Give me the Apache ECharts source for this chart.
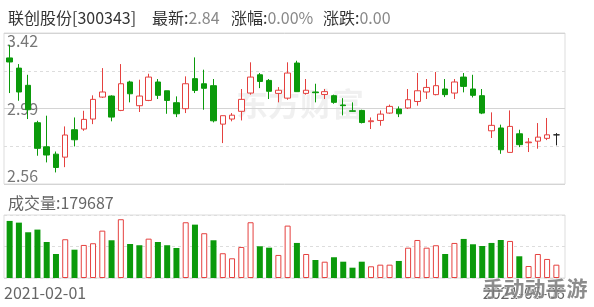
<!DOCTYPE html>
<html><head><meta charset="utf-8">
<script src="https://cdn.jsdelivr.net/npm/echarts@6/dist/echarts.min.js"></script>
<style>html,body{margin:0;padding:0;background:#fff}#c{width:594px;height:307px}</style>
</head><body><div id="c"></div>
<script>
const stockName = '联创股份[300343]';
const latestPrice = '2.84';
const changePct = '0.00%';
const changeAmt = '0.00';
const lastVolume = '179687';
const watermarkCenter = '东方财富';
const watermarkCorner = '手动动手游';

const dates = [
 '2021-02-01','2021-02-02','2021-02-03','2021-02-04','2021-02-05','2021-02-08','2021-02-09','2021-02-10','2021-02-18','2021-02-19',
 '2021-02-22','2021-02-23','2021-02-24','2021-02-25','2021-02-26','2021-03-01','2021-03-02','2021-03-03','2021-03-04','2021-03-05',
 '2021-03-08','2021-03-09','2021-03-10','2021-03-11','2021-03-12','2021-03-15','2021-03-16','2021-03-17','2021-03-18','2021-03-19',
 '2021-03-22','2021-03-23','2021-03-24','2021-03-25','2021-03-26','2021-03-29','2021-03-30','2021-03-31','2021-04-01','2021-04-02',
 '2021-04-06','2021-04-07','2021-04-08','2021-04-09','2021-04-12','2021-04-13','2021-04-14','2021-04-15','2021-04-16','2021-04-19',
 '2021-04-20','2021-04-21','2021-04-22','2021-04-23','2021-04-26','2021-04-27','2021-04-28','2021-04-29','2021-04-30','2021-05-06'
];
const opens = [3.278,3.22,3.122,2.909,2.772,2.73,2.713,2.869,2.873,2.93,
 3.055,3.061,2.979,3.141,3.006,3.036,3.141,3.091,3.023,2.989,
 3.16,3.131,3.12,2.901,2.93,2.974,3.078,3.182,3.15,3.076,
 3.049,3.249,3.076,3.084,3.07,3.063,3.01,2.977,2.979,2.915,
 2.922,2.964,2.987,2.993,3.03,3.084,3.069,3.101,3.078,3.169,
 3.101,3.063,2.863,2.879,2.74,2.846,2.795,2.804,2.82,2.84];
const closes = [3.255,3.084,2.983,2.763,2.725,2.654,2.839,2.812,2.928,3.042,
 3.084,2.941,3.131,3.074,3.061,3.169,3.065,3.036,2.96,3.131,
 3.093,3.105,2.92,2.949,2.952,3.042,3.169,3.144,3.088,3.094,
 3.192,3.086,3.094,3.08,3.086,3.025,3.006,2.974,2.91,2.92,
 2.958,3.002,2.96,3.04,3.091,3.11,3.12,3.069,3.141,3.116,
 3.065,2.964,2.894,2.755,2.888,2.784,2.799,2.827,2.84,2.84];
const lows = [3.078,3.034,2.93,2.721,2.683,2.626,2.656,2.774,2.863,2.901,
 3.05,2.917,2.975,3.025,2.97,3.032,3.044,2.96,2.941,2.964,
 3.078,2.983,2.911,2.793,2.917,2.922,3.069,3.106,3.044,3.025,
 3.04,3.085,3.069,3.025,3.044,3.017,2.951,2.972,2.905,2.873,
 2.892,2.96,2.941,2.987,3.006,3.044,3.065,3.055,3.044,3.082,
 3.053,2.958,2.822,2.732,2.74,2.77,2.742,2.761,2.81,2.78];
const highs = [3.353,3.243,3.182,2.92,2.949,2.745,2.888,2.939,2.977,3.065,
 3.22,3.065,3.243,3.148,3.154,3.188,3.158,3.091,3.059,3.173,
 3.281,3.211,3.158,2.949,2.964,3.101,3.253,3.192,3.158,3.112,
 3.253,3.262,3.158,3.131,3.101,3.069,3.049,3.025,2.983,2.939,
 2.979,3.012,3.002,3.101,3.192,3.158,3.198,3.158,3.158,3.192,
 3.182,3.101,2.968,2.898,2.979,2.869,2.822,2.907,2.936,2.85];
const volumes = [770000,747000,617000,653000,486000,324000,523000,382000,446000,469000,
 639000,509000,793000,459000,442000,531000,486000,442000,405000,752000,
 720000,604000,509000,334000,266000,419000,752000,428000,409000,311000,
 707000,473000,324000,243000,220000,280000,220000,139000,220000,158000,
 180000,180000,230000,409000,513000,409000,442000,324000,473000,527000,
 455000,432000,473000,513000,500000,293000,162000,324000,257000,179687];
const priceTicks = ['2.56','2.99','3.42'];
const priceMin = 2.56, priceMax = 3.42;
const volMax = 850000;

const RED = '#e5413f', GREEN = '#0b9a0b';
const FONT = '"Noto Sans CJK SC", "Noto Sans", sans-serif';

const candleData = dates.map((d, i) => [opens[i], closes[i], lows[i], highs[i]]);
const volData = volumes.map((v, i) => {
  const up = i === 0 ? closes[i] >= opens[i] : closes[i] >= closes[i - 1];
  return { value: v, itemStyle: up ? { color: '#fff', borderColor: RED, borderWidth: 1 } : { color: GREEN } };
});

const lbl = { fontSize: 16, color: '#333', fontWeight: 'normal', fontFamily: FONT };
const val = { fontSize: 16, color: '#888', fontWeight: 'normal', fontFamily: FONT };

const chart = echarts.init(document.getElementById('c'), null, { renderer: 'canvas' });
chart.setOption({
  animation: false,
  backgroundColor: '#fff',
  textStyle: { fontFamily: FONT },
  title: [
    { text: stockName, left: 3, top: 5, textStyle: { fontSize: 16, fontWeight: 'normal', color: '#333', fontFamily: FONT } },
    { text: '{a|最新:}{b|' + latestPrice + '}', left: 147, top: 5, textStyle: { fontWeight: 'normal', rich: { a: lbl, b: val } } },
    { text: '{a|涨幅:}{b|' + changePct + '}', left: 226, top: 5, textStyle: { fontWeight: 'normal', rich: { a: lbl, b: val } } },
    { text: '{a|涨跌:}{b|' + changeAmt + '}', left: 318, top: 5, textStyle: { fontWeight: 'normal', rich: { a: lbl, b: val } } },
    { text: '成交量:' + lastVolume, left: 3, top: 190, textStyle: { fontSize: 16, fontWeight: 'normal', color: '#666', fontFamily: FONT } }
  ],
  graphic: [
    { type: 'text', left: 236, top: 88, z: 0, silent: true,
      style: { text: watermarkCenter, fontSize: 32, fontWeight: 'bold', fill: 'rgba(0,0,0,0.06)', fontFamily: FONT } },
    { type: 'text', right: 6, top: 277, z: 100, silent: true,
      style: { text: watermarkCorner, fontSize: 21, fontWeight: 'bold', fill: 'rgba(120,120,120,0.85)', stroke: 'rgba(255,255,255,0.8)', lineWidth: 1, fontFamily: FONT } }
  ],
  grid: [
    { left: 5, width: 556, top: 33, height: 151 },
    { left: 5, width: 556, top: 215, height: 63 },
    { left: 4, width: 561, top: 33, height: 151, show: true, borderColor: '#ddd', borderWidth: 1, backgroundColor: 'transparent' },
    { left: 4, width: 561, top: 215, height: 63, show: true, borderColor: '#ddd', borderWidth: 1, backgroundColor: 'transparent' }
  ],
  xAxis: [
    { type: 'category', gridIndex: 0, data: dates, show: false },
    { type: 'category', gridIndex: 1, data: dates, show: false },
    { type: 'value', gridIndex: 2, min: 0, max: 1, show: false },
    { type: 'category', gridIndex: 3, data: dates, boundaryGap: false,
      axisLine: { show: false }, axisTick: { show: false }, splitLine: { show: false },
      axisLabel: { show: true, interval: (i) => i === 0 || i === dates.length - 1, showMinLabel: true, showMaxLabel: true,
        alignMinLabel: 'left', alignMaxLabel: 'right', margin: 7, fontSize: 16, color: '#666', fontFamily: FONT } }
  ],
  yAxis: [
    { type: 'value', gridIndex: 0, min: priceMin, max: priceMax, show: false },
    { type: 'value', gridIndex: 1, min: 0, max: volMax, show: false },
    { type: 'value', gridIndex: 2, position: 'left', min: 0, max: 4, interval: 1, axisLine: { show: false }, axisTick: { show: false }, axisLabel: { show: false },
      splitLine: { show: true, lineStyle: { color: '#ddd', type: [3, 3], width: 1 } } },
    { type: 'value', gridIndex: 2, position: 'left', min: 0, max: 2, interval: 1, axisLine: { show: false }, axisTick: { show: false },
      splitLine: { show: true, lineStyle: { color: '#d4d4d4', type: 'solid', width: 1 } },
      axisLabel: { show: true, inside: true, margin: 3, fontSize: 16, color: '#777', fontFamily: FONT,
        verticalAlignMaxLabel: 'top', verticalAlignMinLabel: 'bottom',
        formatter: (v) => priceTicks[Math.round(v)] } },
    { type: 'value', gridIndex: 3, position: 'left', min: 0, max: 2, interval: 1, axisLine: { show: false }, axisTick: { show: false }, axisLabel: { show: false },
      splitLine: { show: true, lineStyle: { color: '#ddd', type: [3, 3], width: 1 } } }
  ],
  series: [
    { type: 'candlestick', xAxisIndex: 0, yAxisIndex: 0, data: candleData, barWidth: 6, z: 5,
      itemStyle: { color: '#fff', color0: GREEN, borderColor: RED, borderColor0: GREEN, borderColorDoji: '#222', borderWidth: 1 } },
    { type: 'bar', xAxisIndex: 1, yAxisIndex: 1, data: volData, barWidth: 6, z: 5 }
  ]
});
</script></body></html>
